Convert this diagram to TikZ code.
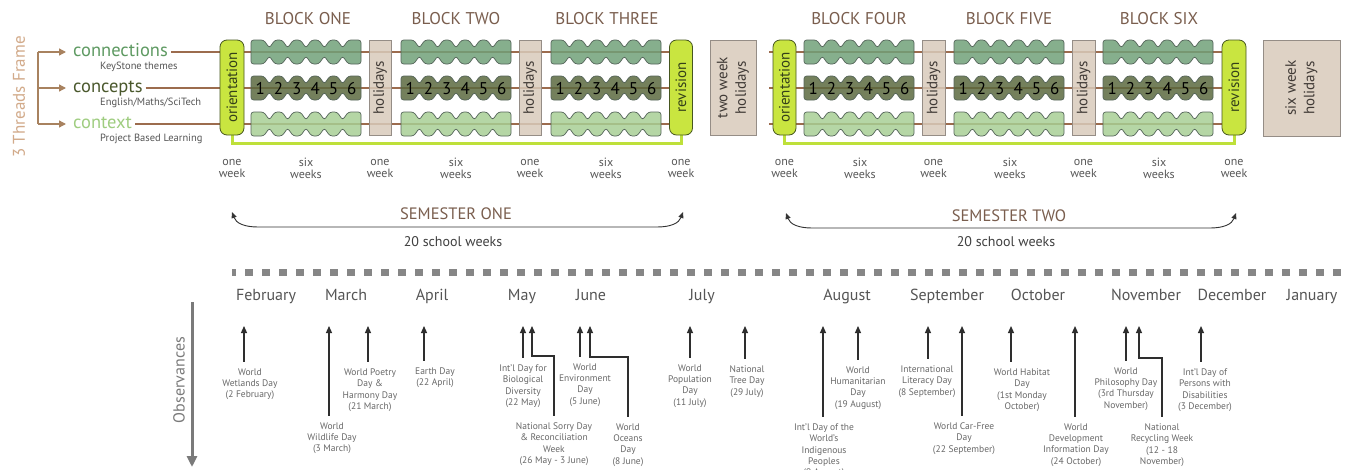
\documentclass[tikz,border=0pt]{standalone}
\usepackage{fontspec}
\usepackage{graphicx}
\setmainfont{PT Sans}
\usetikzlibrary{arrows.meta}

\definecolor{threadbrown}{HTML}{9C6C4E}
\definecolor{bracketbrown}{HTML}{A8825F}
\definecolor{framebrown}{HTML}{D2AA8A}
\definecolor{conngreen}{HTML}{5E9A62}
\definecolor{concolive}{HTML}{4A582C}
\definecolor{ctxgreen}{HTML}{9FCD80}
\definecolor{subgray}{HTML}{555555}
\definecolor{segline}{HTML}{55655A}
\definecolor{segtopfill}{HTML}{70A078}
\definecolor{segmidfill}{HTML}{5A683D}
\definecolor{segbotfill}{HTML}{A7CF94}
\definecolor{orfill}{HTML}{C9E540}
\definecolor{orline}{HTML}{46561F}
\definecolor{ortext}{HTML}{34401A}
\definecolor{holfill}{HTML}{D9CBBB}
\definecolor{holline}{HTML}{958D86}
\definecolor{holtext}{HTML}{403A36}
\definecolor{linkgreen}{HTML}{BEE03A}
\definecolor{titlebrown}{HTML}{7A5E4E}
\definecolor{weekgray}{HTML}{585858}
\definecolor{dashgray}{HTML}{868686}
\definecolor{monthgray}{HTML}{555555}
\definecolor{obsgray}{HTML}{7A7A7A}
\definecolor{obstext}{HTML}{686868}
\definecolor{obsarrowc}{HTML}{2E2E2E}

\newcommand\fs[2]{\fontsize{#1}{#2}\selectfont}

% one scalloped row of six weeks: left x, top y, style
\newcommand\segrow[3]{%
  \draw[#3] (#1,#2+12) -- (#1,#2)
    \foreach \k in {1,...,5}{ -- ({#1+\k*18.333-5.5},#2) -- ({#1+\k*18.333},#2+8) -- ({#1+\k*18.333+5.5},#2) }
    -- (#1+110,#2) -- (#1+110,#2+24)
    \foreach \k in {5,4,...,1}{ -- ({#1+\k*18.333+5.5},#2+24) -- ({#1+\k*18.333},#2+16) -- ({#1+\k*18.333-5.5},#2+24) }
    -- (#1,#2+24) -- cycle;
}
% a six-week block: three rows, numbered middle row
\newcommand\weekblock[2]{%
  \segrow{#1}{40}{segtop}
  \segrow{#1}{76}{segmid}
  \segrow{#1}{112}{segbot}
  \foreach \k in {1,...,6}
    \node[digit] (#2d\k) at ({#1+(\k-0.5)*18.333},88.5) {\k};
}
% observance with a straight arrow: name, tip x, label x, first line y, text
\newcommand\obs[5]{%
  \coordinate (#1t) at (#2,326);
  \node[obslbl] (#1) at (#3,{#4-10.5}) {#5};
  \draw[obsarrow] (#1.north -| #1t) -- (#1t);
}
% observance with an elbow arrow: name, tip x, label x, first line y, elbow y, text
\newcommand\obselb[6]{%
  \coordinate (#1t) at (#2,326);
  \coordinate (#1e) at (#2,#5);
  \node[obslbl] (#1) at (#3,{#4-10.5}) {#6};
  \draw[obsarrow] (#1.north) |- (#1e) -- (#1t);
}

\tikzset{
  thread/.style={draw=threadbrown, line width=1.4pt},
  bracket/.style={draw=bracketbrown, line width=1.3pt},
  brarrow/.style={bracket, -{Triangle[length=7pt,width=7pt]}, shorten >=4pt},
  seg/.style={draw=segline, line width=0.7pt, rounded corners=2.6pt, fill opacity=0.84},
  segtop/.style={seg, fill=segtopfill},
  segmid/.style={seg, fill=segmidfill},
  segbot/.style={seg, fill=segbotfill},
  digit/.style={inner sep=0, font=\fs{17}{17}, text=black},
  weekbox/.style={draw=orline, fill=orfill, rounded corners=7pt, line width=0.8pt,
    minimum width=23pt, minimum height=95pt, inner sep=0, text=ortext, font=\fs{15}{17}},
  holbox/.style={draw=holline, fill=holfill, fill opacity=0.85, text opacity=1,
    line width=0.8pt, minimum width=22pt, minimum height=95pt, inner sep=0,
    text=holtext, font=\fs{15}{18.5}},
  greenlink/.style={draw=linkgreen, line width=3pt},
  blocktitle/.style={anchor=base, inner sep=0, font=\fs{17}{20}, text=titlebrown},
  weeklbl/.style={align=center, inner sep=0, font=\fs{12}{12}, text=weekgray},
  threadlbl/.style={anchor=base west, inner xsep=3pt, inner ysep=0, font=\fs{18.5}{20}},
  sublbl/.style={anchor=base west, inner sep=0, font=\fs{10.5}{12}, text=subgray},
  semtitle/.style={anchor=base, inner sep=0, font=\fs{16.5}{18}, text=titlebrown},
  semsub/.style={anchor=base, inner sep=0, font=\fs{14}{16}, text=black!75},
  semarrow/.style={draw=black!80, line width=0.9pt,
    {Triangle[length=6pt,width=5pt]}-{Triangle[length=6pt,width=5pt]}},
  month/.style={anchor=base, inner sep=0, font=\fs{16}{18}, text=monthgray},
  obslbl/.style={anchor=north, align=center, inner xsep=1pt, inner ysep=7pt,
    font=\fs{9.5}{11.3}, text=obstext},
  obsarrow/.style={draw=obsarrowc, line width=1.2pt, -{Triangle[length=7pt,width=6pt]}},
}

\begin{document}
\begin{tikzpicture}[x=1pt,y=-1pt]
\useasboundingbox[fill=white] (0,0) rectangle (1357,469);

% ---------- three threads ----------
\coordinate (r1) at (0,52);
\coordinate (r2) at (0,88);
\coordinate (r3) at (0,124);
\coordinate (br1) at (38,52);
\coordinate (br2) at (38,88);
\coordinate (br3) at (38,124);

\node[rotate=90, inner sep=0, font=\fs{17}{20}, text=framebrown] (frame) at (19,97) {3 Threads Frame};

\node[threadlbl, text=conngreen] (conn) at (70,56.5) {connections};
\node[threadlbl, text=concolive] (conc) at (70,92.5) {concepts};
\node[threadlbl, text=ctxgreen] (ctx) at (70,128.5) {context};
\node[sublbl] (connsub) at (100,69) {KeyStone themes};
\node[sublbl] (concsub) at (100,105) {English/Maths/SciTech};
\node[sublbl] (ctxsub) at (100,141) {Project Based Learning};

\draw[bracket] (br1) -- (br3);
\draw[brarrow] (br1) -- (conn.west |- r1);
\draw[brarrow] (br2) -- (conc.west |- r2);
\draw[brarrow] (br3) -- (ctx.west |- r3);

% ---------- box positions ----------
\coordinate (c1) at (232,87.5);
\coordinate (c2) at (380,87.5);
\coordinate (c3) at (530,87.5);
\coordinate (c4) at (681,87.5);
\coordinate (c5) at (784.5,87.5);
\coordinate (c6) at (933.5,87.5);
\coordinate (c7) at (1083.5,87.5);
\coordinate (c8) at (1234,87.5);
\coordinate (gl) at (0,143);

% thread lines (run behind the blocks)
\coordinate (s2start) at (769,0);
\draw[thread] (conn.east |- r1) -- (c4 |- r1);
\draw[thread] (conc.east |- r2) -- (c4 |- r2);
\draw[thread] (ctx.east |- r3) -- (c4 |- r3);
\draw[thread] (s2start |- r1) -- (c8 |- r1);
\draw[thread] (s2start |- r2) -- (c8 |- r2);
\draw[thread] (s2start |- r3) -- (c8 |- r3);

% orientation to revision links
\draw[greenlink] (c1) -- (c1 |- gl) -- (c4 |- gl) -- (c4);
\draw[greenlink] (c5) -- (c5 |- gl) -- (c8 |- gl) -- (c8);

% six-week blocks
\weekblock{251}{bA}
\weekblock{401}{bB}
\weekblock{551}{bC}
\weekblock{804}{bD}
\weekblock{954}{bE}
\weekblock{1103}{bF}

% orientation, holidays and revision weeks
\node[weekbox, minimum width=24pt] (or1) at (c1) {\rotatebox{90}{orientation}};
\node[holbox] (hol1) at (c2) {\rotatebox{90}{holidays}};
\node[holbox] (hol2) at (c3) {\rotatebox{90}{holidays}};
\node[weekbox] (rev1) at (c4) {\rotatebox{90}{revision}};
\node[holbox, minimum width=46pt] (twowk) at (733,87.5)
  {\rotatebox{90}{\begin{tabular}{@{}c@{}}two week\\holidays\end{tabular}}};
\node[weekbox] (or2) at (c5) {\rotatebox{90}{orientation}};
\node[holbox, minimum width=23pt] (hol3) at (c6) {\rotatebox{90}{holidays}};
\node[holbox, minimum width=23pt] (hol4) at (c7) {\rotatebox{90}{holidays}};
\node[weekbox, minimum width=24pt] (rev2) at (c8) {\rotatebox{90}{revision}};
\node[holbox, minimum width=77pt, minimum height=96pt] (sixwk) at (1301.5,88)
  {\rotatebox{90}{\begin{tabular}{@{}c@{}}six week\\holidays\end{tabular}}};

% block titles
\node[blocktitle] (tA) at (308,24) {BLOCK ONE};
\node[blocktitle] (tB) at (456,24) {BLOCK TWO};
\node[blocktitle] (tC) at (607,24) {BLOCK THREE};
\node[blocktitle] (tD) at (859,24) {BLOCK FOUR};
\node[blocktitle] (tE) at (1009,24) {BLOCK FIVE};
\node[blocktitle] (tF) at (1159,24) {BLOCK SIX};

% durations
\coordinate (wk) at (0,168);
\node[weeklbl] (w1) at (c1 |- wk) {one\\week};
\node[weeklbl] (w2) at (306,168) {six\\weeks};
\node[weeklbl] (w3) at (c2 |- wk) {one\\week};
\node[weeklbl] (w4) at (456,168) {six\\weeks};
\node[weeklbl] (w5) at (c3 |- wk) {one\\week};
\node[weeklbl] (w6) at (606,168) {six\\weeks};
\node[weeklbl] (w7) at (c4 |- wk) {one\\week};
\node[weeklbl] (w8) at (c5 |- wk) {one\\week};
\node[weeklbl] (w9) at (860,168) {six\\weeks};
\node[weeklbl] (w10) at (c6 |- wk) {one\\week};
\node[weeklbl] (w11) at (1010,168) {six\\weeks};
\node[weeklbl] (w12) at (c7 |- wk) {one\\week};
\node[weeklbl] (w13) at (1159,168) {six\\weeks};
\node[weeklbl] (w14) at (c8 |- wk) {one\\week};

% ---------- semesters ----------
\coordinate (s1l) at (232,212);
\coordinate (s1r) at (683,212);
\coordinate (s2l) at (786,213);
\coordinate (s2r) at (1236,213);
\node[semtitle] (sem1) at (456,219) {SEMESTER ONE};
\node[semsub] (sem1w) at (453,246) {20 school weeks};
\node[semtitle] (sem2) at (1009,221) {SEMESTER TWO};
\node[semsub] (sem2w) at (1006,246) {20 school weeks};
\draw[semarrow] (s1l) .. controls (236,223) and (244,227) .. (258,227)
  -- (657,227) .. controls (671,227) and (679,223) .. (s1r);
\draw[semarrow] (s2l) .. controls (790,224) and (798,228) .. (812,228)
  -- (1210,228) .. controls (1224,228) and (1232,224) .. (s2r);

% ---------- calendar ----------
\coordinate (tl0) at (232,272);
\coordinate (tl1) at (1341,272);
\draw[draw=dashgray, line width=7pt, dash pattern=on 8pt off 9pt, dash phase=4pt] (tl0) -- (tl1);

\node[month] (mFeb) at (266,300) {February};
\node[month] (mMar) at (346,300) {March};
\node[month] (mApr) at (432,300) {April};
\node[month] (mMay) at (522,300) {May};
\node[month] (mJun) at (591,300) {June};
\node[month] (mJul) at (702,300) {July};
\node[month] (mAug) at (847,300) {August};
\node[month] (mSep) at (947,300) {September};
\node[month] (mOct) at (1038,300) {October};
\node[month] (mNov) at (1146,300) {November};
\node[month] (mDec) at (1232,300) {December};
\node[month] (mJan) at (1312,300) {January};

% observances axis
\coordinate (obsTop) at (192,302);
\coordinate (obsEnd) at (192,467);
\draw[draw=obsgray, line width=3pt, -{Triangle[length=11pt,width=10pt]}] (obsTop) -- (obsEnd);
\node[rotate=90, inner sep=0, font=\fs{16}{18}, text=obsgray] (obsl) at (179,380) {Observances};

% observances
\obs{wetl}{244}{250}{372}{World\\Wetlands Day\\(2 February)}
\obs{wild}{329}{332}{426}{World\\Wildlife Day\\(3 March)}
\obs{poet}{368}{370}{372}{World Poetry\\Day \&\\Harmony Day\\(21 March)}
\obs{earth}{424}{435}{371}{Earth Day\\(22 April)}
\obs{bio}{523}{523}{368}{Int'l Day for\\Biological\\Diversity\\(22 May)}
\obselb{sorry}{532}{554}{426}{356}{National Sorry Day\\\& Reconciliation\\Week\\(26 May - 3 June)}
\obs{envi}{580}{585}{367}{World\\Environment\\Day\\(5 June)}
\obselb{ocean}{590}{628}{427}{357}{World\\Oceans\\Day\\(8 June)}
\obs{popu}{690}{690}{368}{World\\Population\\Day\\(11 July)}
\obs{tree}{745}{747}{369}{National\\Tree Day\\(29 July)}
\obs{indig}{823}{824}{427}{Int'l Day of the\\World's\\Indigenous\\Peoples\\(9 August)}
\obs{human}{858}{858}{370}{World\\Humanitarian\\Day\\(19 August)}
\obs{liter}{928}{927}{369}{International\\Literacy Day\\(8 September)}
\obs{carfree}{962}{964}{426}{World Car-Free\\Day\\(22 September)}
\obs{habit}{1011}{1022}{372}{World Habitat\\Day\\(1st Monday\\October)}
\obs{devel}{1075}{1076}{427}{World\\Development\\Information Day\\(24 October)}
\obs{philo}{1126}{1126}{371}{World\\Philosophy Day\\(3rd Thursday\\November)}
\obselb{recyc}{1139}{1162}{427}{358}{National\\Recycling Week\\(12 - 18\\November)}
\obs{disab}{1201}{1205}{372}{Int'l Day of\\Persons with\\Disabilities\\(3 December)}

\end{tikzpicture}
\end{document}
